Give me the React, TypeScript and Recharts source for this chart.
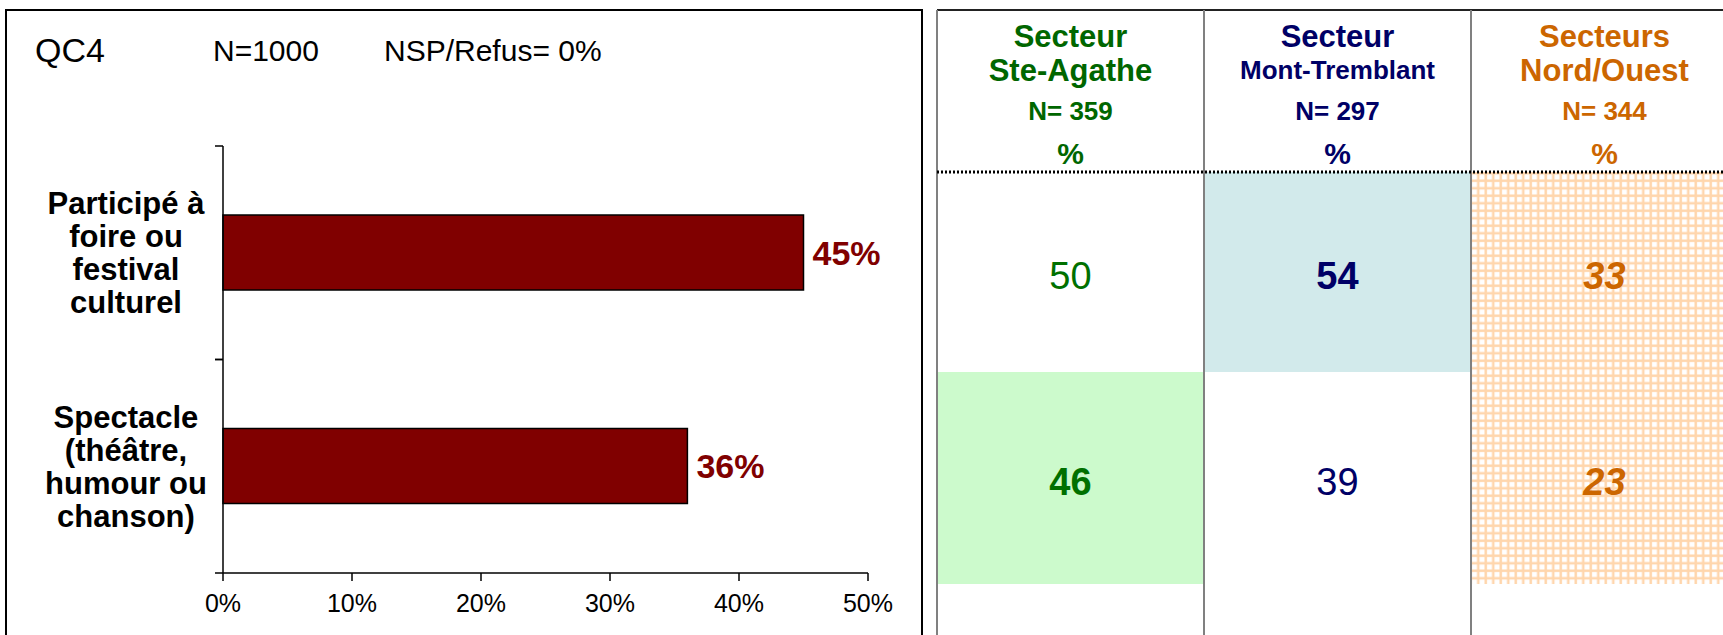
import React from 'react';
import { BarChart, Bar, XAxis, YAxis, LabelList } from 'recharts';

// Question / base
const QUESTION = 'QC4';
const BASE_N = 'N=1000';
const NSP = 'NSP/Refus= 0%';

// Total sample, one row per activity
const CATEGORY_LINES = [
  ['Participé à', 'foire ou', 'festival', 'culturel'],
  ['Spectacle', '(théâtre,', 'humour ou', 'chanson)'],
];
const TOTAL_PCT = [45, 36];
const X_TICKS = [0, 10, 20, 30, 40, 50];

// Breakdown by sector (same row order as above)
const SECTOR_TITLE = ['Secteur', 'Secteur', 'Secteurs'];
const SECTOR_NAME = ['Ste-Agathe', 'Mont-Tremblant', 'Nord/Ouest'];
const SECTOR_N = [359, 297, 344];
const STE_AGATHE = [50, 46];
const MONT_TREMBLANT = [54, 39];
const NORD_OUEST = [33, 23];
// significantly higher / lower than the rest
const STE_AGATHE_SIG = [false, true];
const MONT_TREMBLANT_SIG = [true, false];
const NORD_OUEST_SIG = [true, true];

const SECTOR_VALUES = [STE_AGATHE, MONT_TREMBLANT, NORD_OUEST];
const SECTOR_SIG = [STE_AGATHE_SIG, MONT_TREMBLANT_SIG, NORD_OUEST_SIG];

const FONT = "'Liberation Sans', Arial, Helvetica, sans-serif";
const BAR_RED = '#800000';

// look of each sector column
const SECTOR_STYLE = [
  { color: '#006600', valueColor: '#007000', fill: '#CCFACC', nameSize: 31, italic: false },
  { color: '#000066', valueColor: '#000066', fill: '#D2EAEB', nameSize: 26, italic: false },
  { color: '#CC6600', valueColor: '#CC6600', fill: 'url(#orangeGrid)', nameSize: 31, italic: true },
];

const chartData = CATEGORY_LINES.map((lines, i) => ({
  label: lines.join(' '),
  value: TOTAL_PCT[i],
}));

const CHART_W = 925;
const CHART_H = 635;
const MARGIN = { top: 146, right: 57, bottom: 12, left: 0 };
const X_AXIS_H = 50;
const Y_AXIS_W = 223;
const BAND = (CHART_H - MARGIN.top - MARGIN.bottom - X_AXIS_H) / CATEGORY_LINES.length;

const CategoryTick = (props: any) => {
  const { x, y, payload } = props;
  const idx = chartData.findIndex((d) => d.label === payload.value);
  const lines = CATEGORY_LINES[idx] || [String(payload.value)];
  const lh = 33;
  const axisX = x + 8;
  const start = y - ((lines.length - 1) * lh) / 2;
  return (
    <g>
      <line x1={axisX - 8} x2={axisX} y1={y - BAND / 2} y2={y - BAND / 2} stroke="#000" strokeWidth={1.5} />
      <line x1={axisX - 8} x2={axisX} y1={y + BAND / 2} y2={y + BAND / 2} stroke="#000" strokeWidth={1.5} />
      <text
        x={x - 89}
        y={start}
        textAnchor="middle"
        fontSize={31}
        fontWeight="bold"
        fill="#000"
        fontFamily={FONT}
      >
        {lines.map((l, i) => (
          <tspan key={i} x={x - 89} y={start + i * lh} dy="0.36em">
            {l}
          </tspan>
        ))}
      </text>
    </g>
  );
};

const TotalChart = () => (
  <BarChart
    layout="vertical"
    width={CHART_W}
    height={CHART_H}
    data={chartData}
    margin={MARGIN}
    style={{ fontFamily: FONT }}
  >
    <XAxis
      type="number"
      domain={[0, 50]}
      ticks={X_TICKS}
      tickFormatter={(v) => `${v}%`}
      height={X_AXIS_H}
      axisLine={{ stroke: '#000', strokeWidth: 1.5 }}
      tickLine={{ stroke: '#000', strokeWidth: 1.5 }}
      tickSize={8}
      tickMargin={13}
      tick={{ fill: '#000', fontSize: 25, fontFamily: FONT }}
    />
    <YAxis
      type="category"
      dataKey="label"
      width={Y_AXIS_W}
      axisLine={{ stroke: '#000', strokeWidth: 1.5 }}
      tickLine={false}
      tickSize={8}
      tickMargin={0}
      tick={<CategoryTick />}
    />
    <Bar dataKey="value" fill={BAR_RED} stroke="#000" strokeWidth={1.5} barSize={75} isAnimationActive={false}>
      <LabelList
        dataKey="value"
        position="right"
        offset={9}
        formatter={(v: any) => `${v}%`}
        fill={BAR_RED}
        fontSize={34}
        fontWeight="bold"
        fontFamily={FONT}
      />
    </Bar>
  </BarChart>
);

// sector table geometry
const COL_X = [937, 1204, 1471];
const COL_W = 267;
const ROW_Y = [172, 372];
const ROW_H = [200, 212];

const SectorTable = () => (
  <svg
    width={1723}
    height={635}
    style={{ position: 'absolute', left: 0, top: 0, pointerEvents: 'none', fontFamily: FONT }}
  >
    <defs>
      <pattern id="orangeGrid" width="7.5" height="7.5" patternUnits="userSpaceOnUse">
        <rect width="7.5" height="7.5" fill="#FFD6AD" />
        <rect x="2" y="2" width="5" height="5" fill="#FFFFFF" />
      </pattern>
    </defs>

    {/* title line of the left panel */}
    <text x={35} y={62} fontSize={34} fill="#000">{QUESTION}</text>
    <text x={213} y={61} fontSize={30} fill="#000">{BASE_N}</text>
    <text x={384} y={61} fontSize={30} fill="#000">{NSP}</text>

    {/* highlighted cells */}
    {SECTOR_VALUES.map((vals, c) =>
      vals.map((_, r) =>
        SECTOR_SIG[c][r] ? (
          <rect
            key={`f${c}${r}`}
            x={COL_X[c]}
            y={ROW_Y[r]}
            width={COL_W}
            height={ROW_H[r]}
            fill={SECTOR_STYLE[c].fill}
          />
        ) : null
      )
    )}

    {/* frame */}
    <line x1={937} x2={1723} y1={10} y2={10} stroke="#222" strokeWidth={2} />
    {COL_X.map((x, i) => (
      <line key={i} x1={x} x2={x} y1={10} y2={635} stroke="#808080" strokeWidth={2} />
    ))}
    <line x1={937} x2={1723} y1={172} y2={172} stroke="#000" strokeWidth={3} strokeDasharray="2 2" />

    {/* headers */}
    {SECTOR_NAME.map((name, c) => {
      const cx = COL_X[c] + COL_W / 2;
      const st = SECTOR_STYLE[c];
      return (
        <g key={name} fill={st.color} fontWeight="bold" textAnchor="middle">
          <text x={cx} y={47} fontSize={31}>{SECTOR_TITLE[c]}</text>
          <text x={cx} y={c === 1 ? 79 : 81} fontSize={st.nameSize}>{name}</text>
          <text x={cx} y={120} fontSize={26}>{`N= ${SECTOR_N[c]}`}</text>
          <text x={cx} y={164} fontSize={30}>%</text>
        </g>
      );
    })}

    {/* values */}
    {SECTOR_VALUES.map((vals, c) =>
      vals.map((v, r) => {
        const st = SECTOR_STYLE[c];
        const sig = SECTOR_SIG[c][r];
        return (
          <text
            key={`v${c}${r}`}
            x={COL_X[c] + COL_W / 2}
            y={ROW_Y[r] + ROW_H[r] / 2 + 17}
            textAnchor="middle"
            fontSize={38}
            fill={st.valueColor}
            fontWeight={sig ? 'bold' : 'normal'}
            fontStyle={sig && st.italic ? 'italic' : 'normal'}
          >
            {v}
          </text>
        );
      })
    )}
  </svg>
);

export default function App() {
  return (
    <div
      style={{
        position: 'absolute',
        left: 0,
        top: 0,
        width: 1723,
        height: 635,
        overflow: 'hidden',
        background: '#fff',
        fontFamily: FONT,
      }}
    >
      <div
        style={{
          position: 'absolute',
          left: 5,
          top: 9,
          width: 914,
          height: 700,
          border: '2px solid #000',
        }}
      />
      <div style={{ position: 'absolute', left: 0, top: 0 }}>
        <TotalChart />
      </div>
      <SectorTable />
    </div>
  );
}
